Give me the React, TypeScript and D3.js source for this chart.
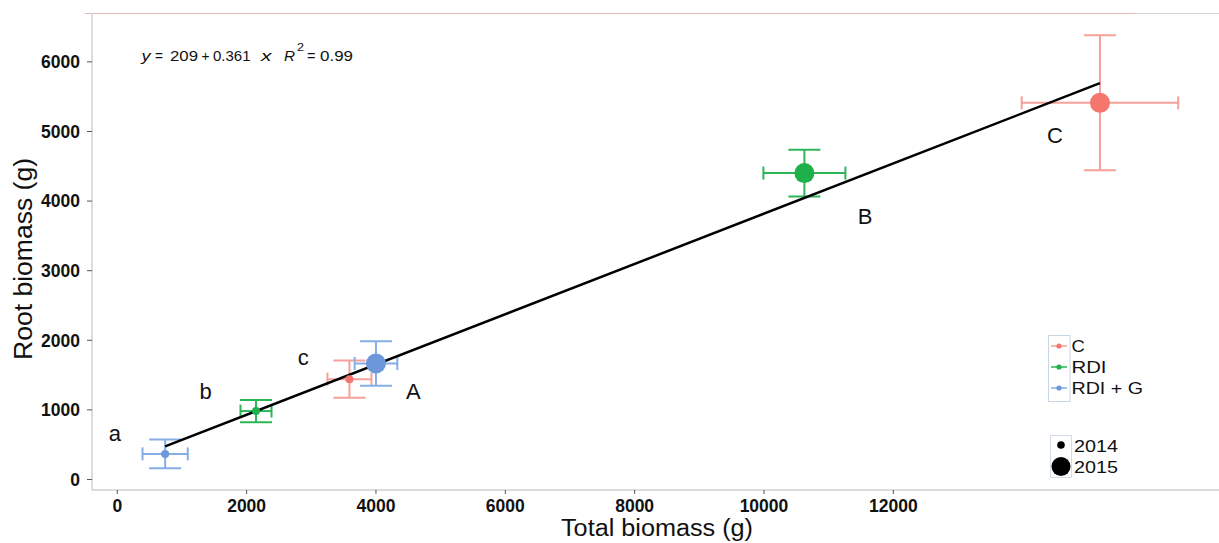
import React from "react";
import * as d3 from "d3";

// ---- data ----
const treatments = ["C", "RDI", "RDI + G"];
const treatmentColors = ["#F5766D", "#1DB04B", "#6C98DA"];
const errorColors = ["#F5A099", "#2CB657", "#85AEE6"];
const years = [2014, 2015];

const pointTreatment = ["RDI + G", "RDI", "C", "RDI + G", "RDI", "C"];
const pointYear = [2014, 2014, 2014, 2015, 2015, 2015];
const totalBiomass = [740, 2145, 3590, 4000, 10625, 15195];
const totalErr = [350, 240, 340, 330, 634, 1210];
const rootBiomass = [368, 983, 1442, 1667, 4402, 5412];
const rootErr = [208, 160, 268, 320, 335, 970];

const intercept = 209;
const slope = 0.361;

const letters = ["a", "b", "c", "A", "B", "C"];
const letterX = [-36, 1367, 2876, 4577, 11562, 14500];
const letterY = [663, 1274, 1762, 1274, 3780, 4943];

const xTicks = [0, 2000, 4000, 6000, 8000, 10000, 12000];
const yTicks = [0, 1000, 2000, 3000, 4000, 5000, 6000];

const W = 1219;
const H = 543;
const left = 92;
const top = 14;
const bottom = 490;
const right = 1219;

export default function App() {
  const x = d3.scaleLinear().domain([-391, 17036]).range([left, right]);
  const y = d3.scaleLinear().domain([-151, 6688]).range([bottom, top]);
  const color = d3.scaleOrdinal<string, string>().domain(treatments).range(treatmentColors);
  const ecolor = d3.scaleOrdinal<string, string>().domain(treatments).range(errorColors);
  const size = d3.scaleOrdinal<number, number>().domain(years).range([4, 10]);

  const xmin = d3.min(totalBiomass) as number;
  const xmax = d3.max(totalBiomass) as number;
  const line = d3.line<number>().x((d) => x(d)).y((d) => y(intercept + slope * d));

  const font = "'Liberation Sans', Arial, Helvetica, sans-serif";
  const capH = 13;
  const capW = 16;

  // equation pieces: [text, x, width, italic, superscript]
  const eq: [string, number, number, boolean, boolean][] = [
    ["y", 141.5, 9, true, false],
    ["=", 155, 8, false, false],
    ["209", 170, 28, false, false],
    ["+", 201.5, 8, false, false],
    ["0.361", 213, 37.5, false, false],
    ["x", 261, 10.5, true, false],
    ["R", 284, 11, true, false],
    ["2", 297, 7, false, true],
    ["=", 307, 8.5, false, false],
    ["0.99", 320, 33, false, false],
  ];
  const legendW = [13.3, 35, 71.5];

  return (
    <svg width={W} height={H} style={{ position: "absolute", left: 0, top: 0, fontFamily: font }}>
      <rect x={0} y={0} width={W} height={H} fill="#fff" />
      {/* panel lines */}
      <line x1={85} x2={1135} y1={top - 0.5} y2={top - 0.5} stroke="#dcbab0" strokeWidth={1.2} />
      <line x1={1135} x2={W} y1={top - 0.5} y2={top - 0.5} stroke="#d6d6d6" strokeWidth={1.2} />
      <line x1={left} x2={left} y1={top - 1} y2={bottom} stroke="#cfd3d8" strokeWidth={1.5} />
      <line x1={left} x2={W} y1={bottom} y2={bottom} stroke="#cfcfcf" strokeWidth={1.5} />

      {/* y axis */}
      {yTicks.map((t) => (
        <g key={"y" + t}>
          <line x1={left - 5} x2={left} y1={y(t)} y2={y(t)} stroke="#555" strokeWidth={1} />
          <text x={left - 12} y={y(t)} dy="0.36em" textAnchor="end" fontSize={17.5} fontWeight="bold" fill="#111">
            {t}
          </text>
        </g>
      ))}
      {/* x axis */}
      {xTicks.map((t) => (
        <g key={"x" + t}>
          <line x1={x(t)} x2={x(t)} y1={bottom} y2={bottom + 4} stroke="#555" strokeWidth={1} />
          <text x={x(t)} y={512} textAnchor="middle" fontSize={17.5} fontWeight="bold" fill="#111">
            {t}
          </text>
        </g>
      ))}

      <text x={561} y={536} fontSize={23} fill="#111" textLength={192} lengthAdjust="spacingAndGlyphs">
        Total biomass (g)
      </text>
      <text
        transform={`translate(31.5,360) rotate(-90)`}
        fontSize={25.5}
        fill="#111"
        textLength={202}
        lengthAdjust="spacingAndGlyphs"
      >
        Root biomass (g)
      </text>

      {/* equation */}
      {eq.map(([s, ex, ew, it, sup], i) => (
        <text
          key={"eq" + i}
          x={ex}
          y={sup ? 51 : 61}
          fontSize={sup ? 10.5 : 14.5}
          fontStyle={it ? "italic" : "normal"}
          fill="#111"
          textLength={ew}
          lengthAdjust="spacingAndGlyphs"
        >
          {s}
        </text>
      ))}

      {/* error bars */}
      {totalBiomass.map((tb, i) => {
        const c = ecolor(pointTreatment[i]);
        const cx = x(tb);
        const cy = y(rootBiomass[i]);
        const y1 = y(rootBiomass[i] + rootErr[i]);
        const y2 = y(rootBiomass[i] - rootErr[i]);
        const x1 = x(tb - totalErr[i]);
        const x2 = x(tb + totalErr[i]);
        return (
          <g key={"e" + i} stroke={c} strokeWidth={2} fill="none">
            <line x1={cx} x2={cx} y1={y1} y2={y2} />
            <line x1={cx - capW} x2={cx + capW} y1={y1} y2={y1} />
            <line x1={cx - capW} x2={cx + capW} y1={y2} y2={y2} />
            <line x1={x1} x2={x2} y1={cy} y2={cy} />
            <line x1={x1} x2={x1} y1={cy - capH / 2} y2={cy + capH / 2} />
            <line x1={x2} x2={x2} y1={cy - capH / 2} y2={cy + capH / 2} />
          </g>
        );
      })}

      {/* regression line */}
      <path d={line([xmin, xmax]) || ""} stroke="#000" strokeWidth={2.5} fill="none" />

      {/* points */}
      {totalBiomass.map((tb, i) => (
        <circle
          key={"p" + i}
          cx={x(tb)}
          cy={y(rootBiomass[i])}
          r={size(pointYear[i])}
          fill={color(pointTreatment[i])}
        />
      ))}

      {/* letters */}
      {letters.map((l, i) => (
        <text key={"l" + i} x={x(letterX[i])} y={y(letterY[i])} dy="0.36em" textAnchor="middle" fontSize={22} fill="#111">
          {l}
        </text>
      ))}

      {/* legend: treatments */}
      <rect x={1048.5} y={335.5} width={21.5} height={66} fill="#fff" stroke="#c9d6e3" strokeWidth={1} />
      {treatments.map((t, i) => {
        const cy = 346 + i * 21;
        return (
          <g key={"lg" + t}>
            <line x1={1051} x2={1067} y1={cy} y2={cy} stroke={errorColors[i]} strokeWidth={1.5} />
            <circle cx={1059} cy={cy} r={2.6} fill={treatmentColors[i]} />
            <text
              x={1071.5}
              y={cy + 6.2}
              fontSize={17}
              fill="#111"
              textLength={legendW[i]}
              lengthAdjust="spacingAndGlyphs"
            >
              {t}
            </text>
          </g>
        );
      })}

      {/* legend: years */}
      <rect x={1050.5} y={435.5} width={21} height={42} fill="#fff" stroke="#d3dde8" strokeWidth={1} />
      {years.map((yr, i) => {
        const cy = 445 + i * 21.5;
        return (
          <g key={"ly" + yr}>
            <circle cx={1061} cy={cy} r={yr === 2014 ? 3.8 : 9.5} fill="#000" />
            <text
              x={1074}
              y={451.5 + i * 21}
              fontSize={17}
              fill="#111"
              textLength={44}
              lengthAdjust="spacingAndGlyphs"
            >
              {yr}
            </text>
          </g>
        );
      })}
    </svg>
  );
}
